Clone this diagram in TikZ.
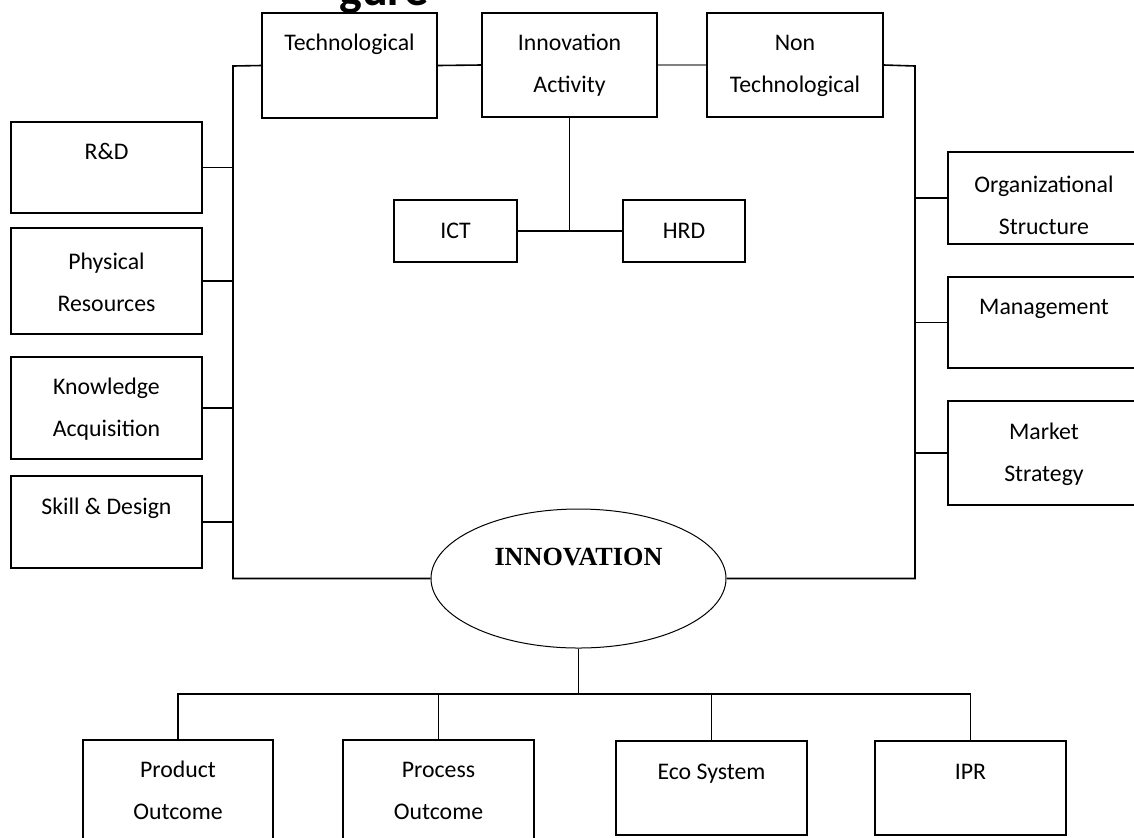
\documentclass[tikz,border=0pt]{standalone}
\usepackage{fontspec}
\setmainfont{Carlito}
\newfontfamily\serifface{Liberation Serif}
\usetikzlibrary{shapes.geometric}
\begin{document}
\begin{tikzpicture}[x=0.5pt,y=-0.5pt,
  box/.style={draw, line width=0.8pt, rectangle, inner sep=0pt},
  lbl/.style={font=\fontsize{11.9}{21}\selectfont, align=center, anchor=north, inner sep=0pt},
  wire/.style={line width=0.8pt}]
\useasboundingbox (0,0) rectangle (1134,837);
\clip (0,0) rectangle (1134,837);

% heading, cut by the top edge
\node[font=\bfseries\fontsize{24}{24}\selectfont, anchor=base, inner sep=0pt] (ttl) at (384,5) {gure};

% top row
\node[box, minimum width=87.5pt, minimum height=52.5pt] (tech) at (349.5,65.5) {};
\node[box, minimum width=87.5pt, minimum height=52pt] (ia) at (569.5,65) {};
\node[box, minimum width=88pt, minimum height=52pt] (nt) at (795,65) {};

% technological factors
\node[box, minimum width=95.5pt, minimum height=45.5pt] (rd) at (106.5,167.5) {};
\node[box, minimum width=95.5pt, minimum height=53pt] (phys) at (106.5,281) {};
\node[box, minimum width=95.5pt, minimum height=51pt] (know) at (106.5,408) {};
\node[box, minimum width=95.5pt, minimum height=46pt] (skill) at (106.5,522) {};

% non technological factors (running past the right edge)
\node[box, minimum width=102pt, minimum height=46pt] (org) at (1050,198) {};
\node[box, minimum width=102pt, minimum height=45.5pt] (mgmt) at (1050,322.5) {};
\node[box, minimum width=102pt, minimum height=52pt] (mkt) at (1050,453) {};

% activity support
\node[box, minimum width=61.5pt, minimum height=31pt, font=\fontsize{11.9}{14}\selectfont] (ict) at (455.5,231) {ICT};
\node[box, minimum width=61pt, minimum height=31pt, font=\fontsize{11.9}{14}\selectfont] (hrd) at (684,231) {HRD};

% centre
\node[draw, ellipse, line width=0.5pt, minimum width=147.5pt, minimum height=69.5pt, inner sep=0pt] (innov) at (578.5,578.5) {};
\node[font=\serifface\bfseries\fontsize{13.1}{15}\selectfont, inner sep=0pt] (innovtxt) at (578.5,557) {INNOVATION};

% outcomes
\node[box, minimum width=95pt, minimum height=55pt] (prod) at (178,795) {};
\node[box, minimum width=95.5pt, minimum height=55pt] (proc) at (438.5,795) {};
\node[box, minimum width=95.5pt, minimum height=47pt] (eco) at (711.5,788) {};
\node[box, minimum width=95.5pt, minimum height=47pt] (ipr) at (970.5,788) {};

% box texts
\node[lbl] (techT) at ([yshift=-4.3pt]tech.north) {\strut Technological};
\node[lbl] (iaT) at ([yshift=-4.3pt]ia.north) {\strut Innovation\\Activity};
\node[lbl] (ntT) at ([yshift=-4.3pt]nt.north) {\strut Non\\Technological};
\node[lbl] (rdT) at ([yshift=-4.3pt]rd.north) {\strut R\&D};
\node[lbl] (physT) at ([yshift=-6pt]phys.north) {\strut Physical\\Resources};
\node[lbl] (knowT) at ([yshift=-4.3pt]know.north) {\strut Knowledge\\Acquisition};
\node[lbl] (skillT) at ([yshift=-4.6pt]skill.north) {\strut Skill \& Design};
\node[lbl] (orgT) at ([yshift=-5.8pt]org.north -| 1044,0) {\strut Organizational\\Structure};
\node[lbl] (mgmtT) at ([yshift=-4.3pt]mgmt.north -| 1044,0) {\strut Management};
\node[lbl] (mktT) at ([yshift=-4.6pt]mkt.north -| 1044,0) {\strut Market\\Strategy};
\node[lbl] (prodT) at ([yshift=-4.3pt]prod.north) {\strut Product\\Outcome};
\node[lbl] (procT) at ([yshift=-4.3pt]proc.north) {\strut Process\\Outcome};
\node[lbl] (ecoT) at ([yshift=-4.6pt]eco.north) {\strut Eco System};
\node[lbl] (iprT) at ([yshift=-4.6pt]ipr.north) {\strut IPR};

% trunks
\coordinate (tl) at (233,66);
\coordinate (tr) at (915,66);
\draw[wire] (tech.west) -- (tl) -- (tl |- innov.west) -- (innov.west);
\draw[wire] (nt.east) -- (tr) -- (tr |- innov.east) -- (innov.east);
\draw[wire] (tech.east) -- (ia.west);
\draw[wire, gray] (ia.east) -- (nt.west);

\foreach \b in {rd,phys,know,skill}
  \draw[wire] (\b.east) -- (\b.east -| tl);
\foreach \b in {org,mgmt,mkt}
  \draw[wire] (\b.west) -- (\b.west -| tr);

% activity branch
\draw[wire] (ia.south) -- (ia.south |- ict.east);
\draw[wire] (ict.east) -- (hrd.west);

% outcome branch
\coordinate (bj) at (578.5,694);
\draw[wire] (innov.south) -- (bj);
\draw[wire] (prod.north) -- (prod.north |- bj) -- (ipr.north |- bj) -- (ipr.north);
\draw[wire] (proc.north) -- (proc.north |- bj);
\draw[wire] (eco.north) -- (eco.north |- bj);
\end{tikzpicture}
\end{document}
